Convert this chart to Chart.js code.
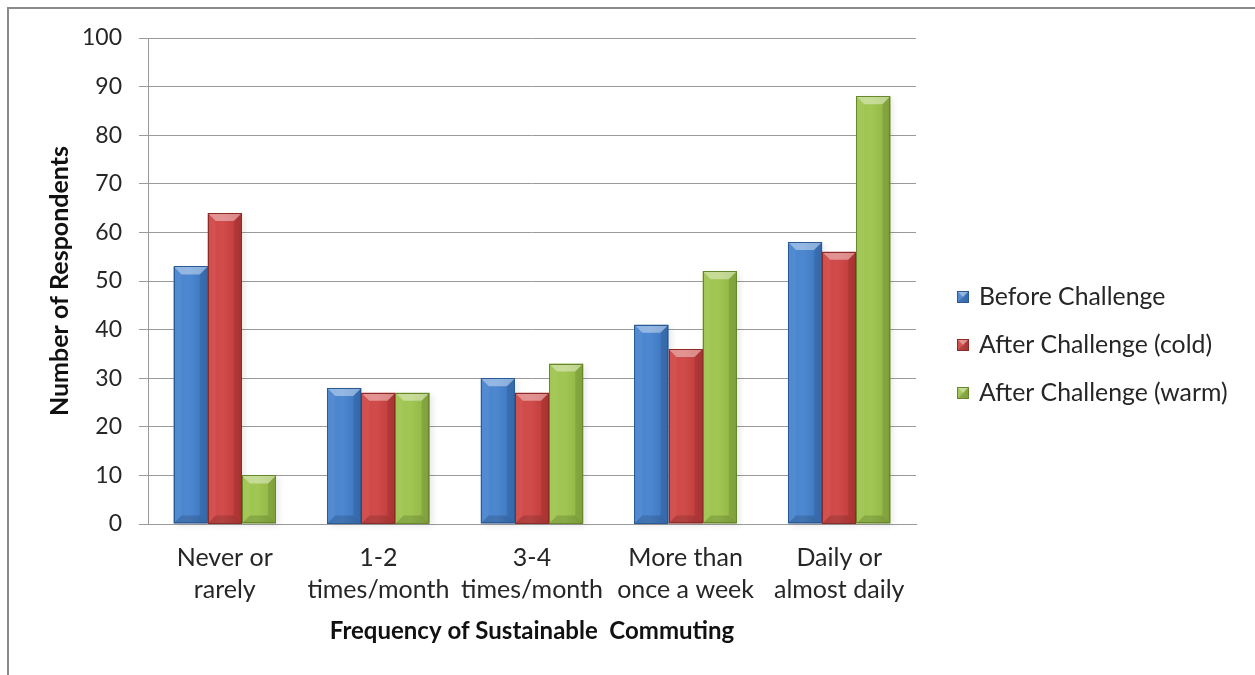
<!DOCTYPE html>
<html>
<head>
<meta charset="utf-8">
<title>Frequency of Sustainable Commuting</title>
<script src="https://cdn.jsdelivr.net/npm/chart.js@4.4.1/dist/chart.umd.min.js"></script>
<style>
    html, body { margin: 0; padding: 0; background: #ffffff; overflow: hidden; }
    #wrap { position: relative; width: 1255px; height: 675px; }
    #frame {
        position: absolute; left: 7px; top: 7px;
        width: 1400px; height: 800px;
        border-left: 2px solid #8a8a8a; border-top: 2px solid #8a8a8a;
    }
    #chart { position: absolute; left: 0; top: 0; }
</style>
</head>
<body>
<div id="wrap">
    <div id="frame"></div>
    <canvas id="chart" width="1255" height="675"></canvas>
</div>
<script>
// survey answers, grouped by commuting frequency
const categories = [
    ['Never or', 'rarely'],
    ['1-2', 'times/month'],
    ['3-4', 'times/month'],
    ['More than', 'once a week'],
    ['Daily or', 'almost daily']
];
const seriesNames = ['Before Challenge', 'After Challenge (cold)', 'After Challenge (warm)'];
const beforeChallenge = [53, 28, 30, 41, 58];
const afterCold = [64, 27, 27, 36, 56];
const afterWarm = [10, 27, 33, 52, 88];
const yTicks = [0, 10, 20, 30, 40, 50, 60, 70, 80, 90, 100];

const fills = ['#3e7dcc', '#cc3d3b', '#99c145'];
const edges = ['#285a96', '#8c2a28', '#66872b'];
const FONT = 'Lato, "Open Sans", sans-serif';
const TEXT = '#262626';

// bars get a soft drop shadow before drawing, then a bevel over the top
const bevelBars = {
    id: 'bevelBars',
    beforeDatasetsDraw(chart) {
        const ctx = chart.ctx;
        ctx.save();
        chart.data.datasets.forEach((ds, i) => {
            chart.getDatasetMeta(i).data.forEach(bar => {
                const left = bar.x - bar.width / 2;
                ctx.shadowColor = 'rgba(0,0,0,0.35)';
                ctx.shadowBlur = 6;
                ctx.shadowOffsetX = 3;
                ctx.shadowOffsetY = 2;
                ctx.fillStyle = 'rgba(0,0,0,0.25)';
                ctx.fillRect(left, bar.y, bar.width, bar.base - bar.y);
            });
        });
        ctx.restore();
    },
    afterDatasetsDraw(chart) {
        const ctx = chart.ctx;
        ctx.save();
        chart.data.datasets.forEach((ds, i) => {
            chart.getDatasetMeta(i).data.forEach(bar => {
                drawBevel(ctx, bar.x - bar.width / 2, bar.y, bar.width, bar.base - bar.y, edges[i]);
            });
        });
        ctx.restore();
    }
};

function drawBevel(ctx, x, y, w, h, edge) {
    const b = Math.min(8, h / 2, w / 2);
    const r = x + w, btm = y + h;
    // body shading, light in the middle and darker on the right
    const g = ctx.createLinearGradient(x, 0, r, 0);
    g.addColorStop(0, 'rgba(255,255,255,0.05)');
    g.addColorStop(0.45, 'rgba(255,255,255,0.08)');
    g.addColorStop(1, 'rgba(0,0,0,0.08)');
    ctx.fillStyle = g;
    ctx.fillRect(x, y, w, h);
    // top facet
    ctx.fillStyle = 'rgba(255,255,255,0.40)';
    ctx.beginPath();
    ctx.moveTo(x, y); ctx.lineTo(r, y); ctx.lineTo(r - b, y + b); ctx.lineTo(x + b, y + b);
    ctx.closePath(); ctx.fill();
    // right facet
    ctx.fillStyle = 'rgba(0,0,0,0.10)';
    ctx.beginPath();
    ctx.moveTo(r, y); ctx.lineTo(r, btm); ctx.lineTo(r - b, btm - b); ctx.lineTo(r - b, y + b);
    ctx.closePath(); ctx.fill();
    // left facet
    ctx.fillStyle = 'rgba(255,255,255,0.05)';
    ctx.beginPath();
    ctx.moveTo(x, y); ctx.lineTo(x + b, y + b); ctx.lineTo(x + b, btm - b); ctx.lineTo(x, btm);
    ctx.closePath(); ctx.fill();
    // bottom facet
    ctx.fillStyle = 'rgba(0,0,0,0.14)';
    ctx.beginPath();
    ctx.moveTo(x, btm); ctx.lineTo(r, btm); ctx.lineTo(r - b, btm - b); ctx.lineTo(x + b, btm - b);
    ctx.closePath(); ctx.fill();
    ctx.strokeStyle = edge;
    ctx.lineWidth = 1;
    ctx.strokeRect(Math.round(x) + 0.5, Math.round(y) + 0.5, Math.round(w) - 1, Math.round(h) - 1);
}

// legend sits in the right margin, drawn on the canvas
const sideLegend = {
    id: 'sideLegend',
    afterDraw(chart) {
        const ctx = chart.ctx;
        const x0 = 957, rows = [297, 345, 393], s = 12;
        ctx.save();
        ctx.font = '24.8px ' + FONT;
        ctx.textBaseline = 'middle';
        ctx.textAlign = 'left';
        chart.data.datasets.forEach((ds, i) => {
            const cy = rows[i];
            ctx.fillStyle = ds.backgroundColor;
            ctx.fillRect(x0, cy - s / 2, s, s);
            drawBevel(ctx, x0, cy - s / 2, s, s, edges[i]);
            ctx.fillStyle = TEXT;
            ctx.fillText(ds.label, x0 + 22, cy);
        });
        ctx.restore();
    }
};

function makeDataset(label, values, i) {
    return {
        label: label,
        data: values,
        backgroundColor: fills[i],
        borderColor: edges[i],
        borderWidth: 0,
        categoryPercentage: 0.667,
        barPercentage: 1.0
    };
}

function initCommuteChart(canvasId) {
    const ctx = document.getElementById(canvasId)?.getContext('2d');
    if (!ctx) {
        console.warn(`Canvas element with ID '${canvasId}' not found.`);
        return;
    }
    new Chart(ctx, {
        type: 'bar',
        data: {
            labels: categories,
            datasets: [
                makeDataset(seriesNames[0], beforeChallenge, 0),
                makeDataset(seriesNames[1], afterCold, 1),
                makeDataset(seriesNames[2], afterWarm, 2)
            ]
        },
        options: {
            responsive: false,
            animation: false,
            layout: { padding: { top: 38, right: 339, bottom: 0, left: 0 } },
            plugins: {
                legend: { display: false },
                tooltip: { enabled: false }
            },
            scales: {
                x: {
                    grid: { display: false },
                    border: { display: true, color: '#9a9a9a', width: 1 },
                    ticks: {
                        color: TEXT,
                        font: { family: FONT, size: 25, lineHeight: 1.28 },
                        padding: 10,
                        maxRotation: 0,
                        autoSkip: false
                    },
                    title: {
                        display: true,
                        text: 'Frequency of Sustainable  Commuting',
                        color: '#111',
                        font: { family: FONT, size: 24, weight: 'bold' },
                        padding: { top: 0, bottom: 29 }
                    },
                    afterFit(scale) { scale.height = 151; }
                },
                y: {
                    min: 0,
                    max: 100,
                    afterBuildTicks(scale) {
                        scale.ticks = yTicks.map(v => ({ value: v }));
                    },
                    grid: { color: '#9a9a9a', lineWidth: 1, tickLength: 9 },
                    border: { display: true, color: '#9a9a9a', width: 1 },
                    ticks: {
                        color: TEXT,
                        font: { family: FONT, size: 23 },
                        padding: 17
                    },
                    title: {
                        display: true,
                        text: 'Number of Respondents',
                        color: '#111',
                        font: { family: FONT, size: 25, weight: 'bold' },
                        padding: { top: 45, bottom: 0 }
                    },
                    afterFit(scale) { scale.width = 148; }
                }
            }
        },
        plugins: [bevelBars, sideLegend]
    });
}

initCommuteChart('chart');
</script>
</body>
</html>
